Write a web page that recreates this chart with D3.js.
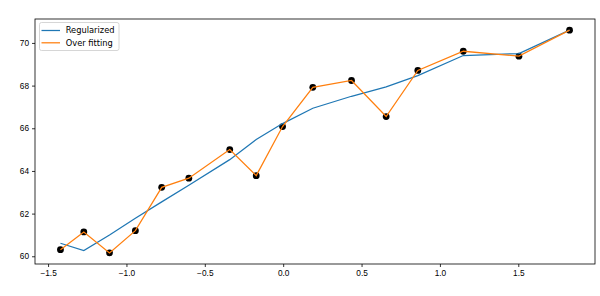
<!DOCTYPE html>
<html>
<head>
<meta charset="utf-8">
<script src="https://cdn.jsdelivr.net/npm/d3@7"></script>
<style>
body { margin: 0; background: #fff; }
svg { display: block; font-family: "DejaVu Sans", sans-serif; }
</style>
</head>
<body>
<script>
// sample points (x, observed y)
var xs = [-1.421, -1.272, -1.108, -0.943, -0.775, -0.602, -0.341, -0.172,
          -0.004, 0.189, 0.436, 0.657, 0.859, 1.149, 1.504, 1.827];
var observed = [60.31, 61.14, 60.16, 61.20, 63.23, 63.66, 65.00, 63.78,
                66.08, 67.92, 68.24, 66.55, 68.71, 69.61, 69.38, 70.60];
var regularized = [60.61, 60.27, 61.00, 61.78, 62.55, 63.33, 64.53, 65.47,
                   66.22, 66.94, 67.50, 67.94, 68.47, 69.41, 69.50, 70.60];
var xTicks = [-1.5, -1.0, -0.5, 0.0, 0.5, 1.0, 1.5];
var yTicks = [60, 62, 64, 66, 68, 70];
var seriesNames = ["Regularized", "Over fitting"];

var width = 600,
    height = 296;
// plot box (note: "top" is reserved on window, so prefixed names)
var plotLeft = 35, plotRight = 595, plotTop = 19, plotBottom = 264;

var svg = d3.select('body')
    .append('svg')
    .attr('width', width)
    .attr('height', height);

// matplotlib-style 5% margins
var xmin = d3.min(xs), xmax = d3.max(xs);
var xpad = (xmax - xmin) * 0.05;
var ymin = d3.min(observed.concat(regularized)), ymax = d3.max(observed.concat(regularized));
var ypad = (ymax - ymin) * 0.05;

var x = d3.scaleLinear()
    .domain([xmin - xpad, xmax + xpad])
    .range([plotLeft, plotRight]);

var y = d3.scaleLinear()
    .domain([ymin - ypad, ymax + ypad])
    .range([plotBottom, plotTop]);

var xAxis = d3.axisBottom(x)
    .tickValues(xTicks)
    .tickFormat(d3.format('.1f'))
    .tickSizeInner(3)
    .tickSizeOuter(0)
    .tickPadding(3);

var yAxis = d3.axisLeft(y)
    .tickValues(yTicks)
    .tickFormat(d3.format('d'))
    .tickSizeInner(3)
    .tickSizeOuter(0)
    .tickPadding(3);

var gx = svg.append('g')
    .attr('transform', 'translate(0,' + plotBottom + ')')
    .call(xAxis);
var gy = svg.append('g')
    .attr('transform', 'translate(' + plotLeft + ',0)')
    .call(yAxis);

[gx, gy].forEach(function(g) {
    g.select('.domain').remove();
    g.selectAll('line').attr('stroke', '#000').attr('stroke-width', 0.8);
    g.selectAll('text').attr('fill', '#000').style('font-size', '8.3px');
});

// frame
svg.append('rect')
    .attr('x', plotLeft)
    .attr('y', plotTop)
    .attr('width', plotRight - plotLeft)
    .attr('height', plotBottom - plotTop)
    .attr('fill', 'none')
    .attr('stroke', '#000')
    .attr('stroke-width', 0.8);

// scatter
svg.selectAll('circle.pt')
    .data(xs).enter()
    .append('circle')
    .attr('class', 'pt')
    .attr('cx', (d) => x(d))
    .attr('cy', (d, i) => y(observed[i]))
    .attr('r', 3.4)
    .attr('fill', '#000');

var line = d3.line()
    .x((d) => x(d[0]))
    .y((d) => y(d[1]));

svg.append('path')
    .datum(xs.map((d, i) => [d, regularized[i]]))
    .attr('fill', 'none')
    .attr('stroke', '#1f77b4')
    .attr('stroke-width', 1.25)
    .attr('d', line);

svg.append('path')
    .datum(xs.map((d, i) => [d, observed[i]]))
    .attr('fill', 'none')
    .attr('stroke', '#ff7f0e')
    .attr('stroke-width', 1.25)
    .attr('d', line);

// legend
var legend = svg.append('g');
legend.append('rect')
    .attr('x', 39.5)
    .attr('y', 22.5)
    .attr('width', 79.5)
    .attr('height', 28)
    .attr('rx', 2)
    .attr('fill', '#fff')
    .attr('fill-opacity', 0.8)
    .attr('stroke', '#ccc')
    .attr('stroke-width', 0.8);

var colors = ['#1f77b4', '#ff7f0e'];
seriesNames.forEach(function(name, i) {
    var ly = 30.5 + i * 12.3;
    legend.append('line')
        .attr('x1', 41.5).attr('x2', 60)
        .attr('y1', ly).attr('y2', ly)
        .attr('stroke', colors[i])
        .attr('stroke-width', 1.25);
    legend.append('text')
        .attr('x', 65.7)
        .attr('y', ly)
        .attr('dy', '0.35em')
        .style('font-size', '8.3px')
        .attr('fill', '#000')
        .text(name);
});
</script>
</body>
</html>
